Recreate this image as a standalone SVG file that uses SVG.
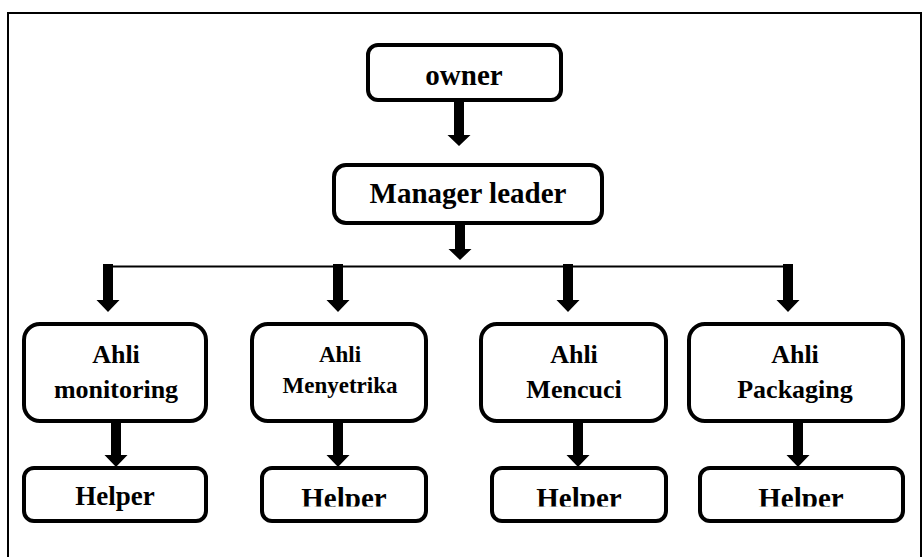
<svg xmlns="http://www.w3.org/2000/svg" width="923" height="557" viewBox="0 0 923 557">
<style>
.box{fill:#fff;stroke:#000;stroke-width:4}
.t{font-family:"Liberation Serif","Times New Roman",serif;font-weight:bold;fill:#000;text-anchor:middle}
.arr{fill:#000;stroke:none}
</style>
<defs>
<clipPath id="hc"><rect x="0" y="0" width="923" height="506.5"/></clipPath>
</defs>
<rect x="8" y="13" width="913" height="560" fill="none" stroke="#000" stroke-width="2"/>
<g id="connectors">
<path class="arr" d="M454,100 H464 V135 H470.5 L459,146 L447.5,135 H454 Z"/>
<path class="arr" d="M455,223 H465 V249 H471.5 L460,260 L448.5,249 H455 Z"/>
<path d="M108,266.5 H788" stroke="#000" stroke-width="2" fill="none"/>
<path class="arr" d="M103,264 H113 V300 H119.5 L108,312 L96.5,300 H103 Z"/>
<path class="arr" d="M333,264 H343 V300 H349.5 L338,312 L326.5,300 H333 Z"/>
<path class="arr" d="M563,264 H573 V300 H579.5 L568,312 L556.5,300 H563 Z"/>
<path class="arr" d="M783,264 H793 V300 H799.5 L788,312 L776.5,300 H783 Z"/>
<path class="arr" d="M111,421 H121 V455 H127.5 L116,467 L104.5,455 H111 Z"/>
<path class="arr" d="M333,421 H343 V455 H349.5 L338,467 L326.5,455 H333 Z"/>
<path class="arr" d="M573,421 H583 V455 H589.5 L578,467 L566.5,455 H573 Z"/>
<path class="arr" d="M793,421 H803 V455 H809.5 L798,467 L786.5,455 H793 Z"/>
</g>
<g id="owner">
<rect class="box" x="368" y="45" width="193" height="55" rx="10"/>
<text class="t" x="464" y="85" font-size="29">owner</text>
</g>
<g id="manager">
<rect class="box" x="334" y="165" width="268" height="58" rx="12"/>
<text class="t" x="468" y="203" font-size="29">Manager leader</text>
</g>
<g id="ahli-monitoring">
<rect class="box" x="24" y="324" width="182" height="97" rx="16"/>
<text class="t" x="116" y="363" font-size="26">Ahli</text>
<text class="t" x="116" y="398" font-size="26">monitoring</text>
</g>
<g id="ahli-menyetrika">
<rect class="box" x="252" y="324" width="174" height="97" rx="16"/>
<text class="t" x="340" y="362" font-size="23">Ahli</text>
<text class="t" x="340" y="393" font-size="23">Menyetrika</text>
</g>
<g id="ahli-mencuci">
<rect class="box" x="481" y="324" width="185" height="97" rx="16"/>
<text class="t" x="574" y="363" font-size="26">Ahli</text>
<text class="t" x="574" y="398" font-size="26">Mencuci</text>
</g>
<g id="ahli-packaging">
<rect class="box" x="689" y="324" width="214" height="97" rx="16"/>
<text class="t" x="795" y="363" font-size="26">Ahli</text>
<text class="t" x="795" y="398" font-size="26">Packaging</text>
</g>
<g id="helper-1">
<rect class="box" x="24" y="468" width="182" height="53" rx="10"/>
<text class="t" x="115" y="505" font-size="27">Helper</text>
</g>
<g id="helper-2">
<rect class="box" x="262" y="468" width="164" height="53" rx="10"/>
<text class="t" x="344" y="508" font-size="29" clip-path="url(#hc)">Helper</text>
</g>
<g id="helper-3">
<rect class="box" x="492" y="468" width="174" height="53" rx="10"/>
<text class="t" x="579" y="508" font-size="29" clip-path="url(#hc)">Helper</text>
</g>
<g id="helper-4">
<rect class="box" x="700" y="468" width="203" height="53" rx="10"/>
<text class="t" x="801" y="508" font-size="29" clip-path="url(#hc)">Helper</text>
</g>
</svg>
